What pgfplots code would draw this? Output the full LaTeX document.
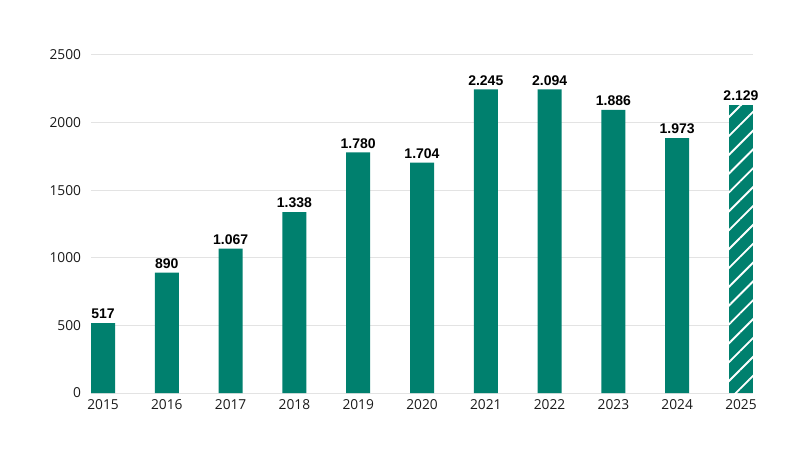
\documentclass[border=0pt]{standalone}
\usepackage{pgfplots}
\pgfplotsset{compat=1.18}
\usepackage{fontspec}
\setmainfont{Open Sans}
\newfontfamily\labelfont{Liberation Sans}
\usetikzlibrary{patterns.meta}
\definecolor{bargreen}{HTML}{00806E}
\definecolor{gridgrey}{HTML}{E3E3E3}
\definecolor{ticktext}{HTML}{1A1A1A}

\begin{document}
\begin{tikzpicture}
\useasboundingbox (0,0) rectangle (600pt,337.5pt);
\begin{axis}[
    at={(68.25pt,42.75pt)}, anchor=south west,
    scale only axis,
    width=496.5pt, height=253.5pt,
    xmin=-0.1884, xmax=10.1884,
    ymin=0, ymax=2500,
    ytick={0,500,1000,1500,2000,2500},
    xtick={0,1,2,3,4,5,6,7,8,9,10},
    xticklabels={2015,2016,2017,2018,2019,2020,2021,2022,2023,2024,2025},
    axis line style={draw=none},
    major tick length=0pt,
    ymajorgrids=true,
    grid style={gridgrey, line width=0.75pt},
    ybar, bar width=18pt, bar shift=0pt,
    /pgf/number format/assume math mode=true,
    scaled y ticks=false,
    yticklabel style={/pgf/number format/1000 sep={}},
    tick label style={font=\fontsize{10.3}{12}\selectfont, text=ticktext},
    xticklabel style={yshift=-1pt},
    yticklabel style={xshift=-4pt},
    point meta=explicit symbolic,
    nodes near coords,
    every node near coord/.append style={font=\labelfont\bfseries\fontsize{10.5}{12}\selectfont, text=black, anchor=south, yshift=-0.5pt},
]
\addplot[fill=bargreen, draw=none] coordinates {
    (0,517) [517]
    (1,890) [890]
    (2,1067) [1.067]
    (3,1338) [1.338]
    (4,1780) [1.780]
    (5,1704) [1.704]
    (6,2245) [2.245]
    (7,2245) [2.094]
    (8,2094) [1.886]
    (9,1886) [1.973]
};
\addplot[fill=bargreen, draw=none,
    postaction={pattern={Lines[angle=45,distance=10pt,line width=1.4pt]}, pattern color=white}]
    coordinates {(10,2129) [2.129]};
\end{axis}
\end{tikzpicture}
\end{document}
